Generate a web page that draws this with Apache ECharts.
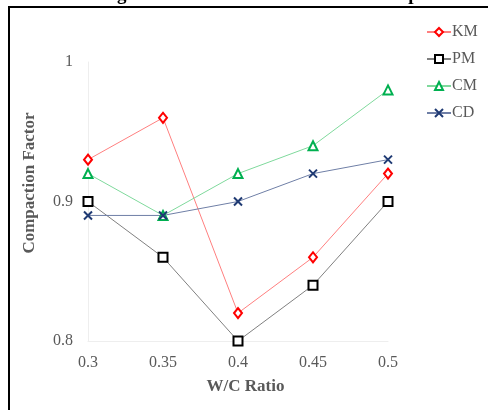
<!DOCTYPE html>
<html>
<head>
<meta charset="utf-8">
<script src="https://cdn.jsdelivr.net/npm/echarts@6/dist/echarts.min.js"></script>
<style>
  html, body { margin: 0; padding: 0; background: #fff; }
</style>
</head>
<body>
<div id="main" style="width: 488px; height: 410px"></div>
<script>
// W/C ratio categories
const ratios = ["0.3", "0.35", "0.4", "0.45", "0.5"];
// compaction factor per mix
const km = [0.93, 0.96, 0.82, 0.86, 0.92];
const pm = [0.9, 0.86, 0.8, 0.84, 0.9];
const cm = [0.92, 0.89, 0.92, 0.94, 0.98];
const cd = [0.89, 0.89, 0.9, 0.92, 0.93];

const serif = "'Liberation Serif', 'DejaVu Serif', serif";
const grey = "#595959";

const chart = echarts.init(document.getElementById("main"));

function mkSeries(name, data, lineColor, markColor, symbol, size) {
  return {
    name: name,
    type: "line",
    data: data,
    symbol: symbol,
    symbolSize: size,
    showAllSymbol: true,
    lineStyle: { color: lineColor, width: 1 },
    itemStyle: { color: "#fff", borderColor: markColor, borderWidth: 2 },
    emphasis: { disabled: true },
    z: 3,
  };
}

const option = {
  animation: false,
  graphic: [
    {
      // outer frame (right / bottom edges lie outside the picture)
      type: "rect",
      shape: { x: 9, y: 7, width: 520, height: 440 },
      style: { fill: "none", stroke: "#000", lineWidth: 2 },
      silent: true,
    },
    {
      // title mostly clipped off the top
      type: "text",
      x: 100,
      y: 5,
      style: {
        text: "Figure 3: Effect of W/C Ratio on Compaction",
        font: "bold 19px " + serif,
        fill: "#000",
        verticalAlign: "bottom",
      },
      silent: true,
    },
    {
      // y axis title, sits a little above the plot middle
      type: "text",
      x: 30,
      y: 183,
      rotation: Math.PI / 2,
      style: {
        text: "Compaction Factor",
        font: "bold 17px " + serif,
        fill: grey,
        align: "center",
        verticalAlign: "middle",
      },
      silent: true,
    },
  ],
  legend: {
    orient: "vertical",
    left: 421,
    top: 18,
    itemGap: 9,
    itemWidth: 24,
    itemHeight: 10,
    textStyle: { color: grey, fontFamily: serif, fontSize: 16, lineHeight: 18, padding: [0, 0, 0, -4] },
    data: ["KM", "PM", "CM", "CD"],
  },
  grid: { left: 88, right: 100, top: 62, bottom: 69 },
  xAxis: {
    type: "category",
    data: ratios,
    boundaryGap: false,
    name: "W/C Ratio",
    nameLocation: "middle",
    nameGap: 37,
    nameTextStyle: {
      color: grey,
      fontFamily: serif,
      fontSize: 17,
      fontWeight: "bold",
      padding: [0, 0, 0, 15],
    },
    axisLine: { lineStyle: { color: "#eeeeee", width: 1 } },
    axisTick: { show: false },
    axisLabel: { color: grey, fontFamily: serif, fontSize: 16, margin: 14 },
    splitLine: { show: false },
  },
  yAxis: {
    type: "value",
    min: 0.8,
    max: 1,
    interval: 0.1,
    axisLine: { show: true, lineStyle: { color: "#eeeeee", width: 1 } },
    axisTick: { show: false },
    axisLabel: {
      color: grey,
      fontFamily: serif,
      fontSize: 16,
      margin: 15,
      formatter: function (v) {
        return String(Math.round(v * 10) / 10);
      },
    },
    splitLine: { show: false },
  },
  series: [
    mkSeries("KM", km, "#ff7f7f", "#ff0000", "diamond", [8, 10]),
    mkSeries("PM", pm, "#808080", "#000000", "rect", 9),
    mkSeries("CM", cm, "#7fd99c", "#00b050", "triangle", 9),
    mkSeries("CD", cd, "#6f7fa6", "#1f3a73", "path://M0,0L10,10M10,0L0,10", 8),
  ],
};

chart.setOption(option);
</script>
</body>
</html>
